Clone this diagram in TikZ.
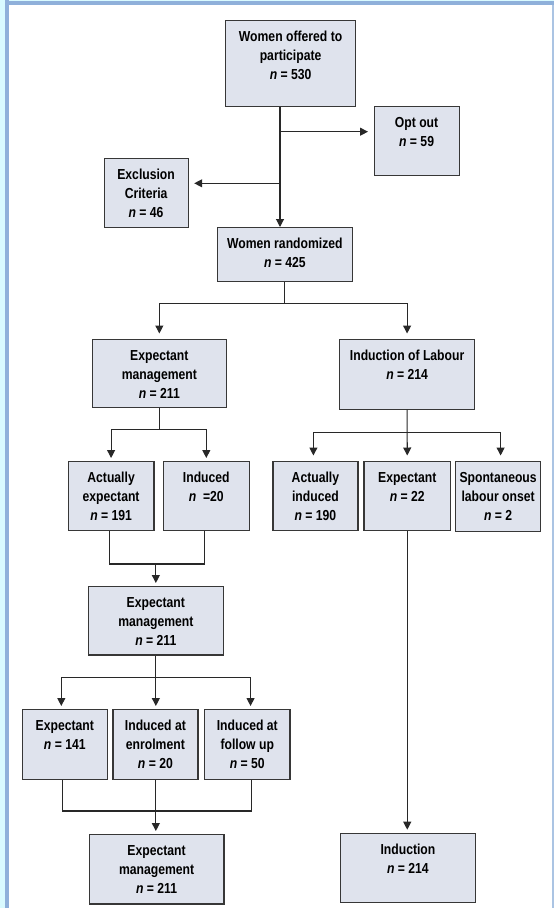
\documentclass[tikz,border=0pt]{standalone}
\usepackage{fontspec}
\setmainfont{Liberation Sans}[FakeStretch=0.84]
\usetikzlibrary{arrows.meta,calc}
\definecolor{boxfill}{RGB}{223,227,237}
\definecolor{boxline}{RGB}{55,55,55}
\definecolor{conn}{RGB}{40,40,40}
\definecolor{framebl}{RGB}{143,176,218}
\definecolor{framecy}{RGB}{217,250,255}
\newcommand{\bt}[3]{\begin{minipage}[t][#2pt][t]{#1pt}\centering\rule{0pt}{21pt}#3\end{minipage}}
\newcommand{\nn}{\textit{n}}
\tikzset{
  fbox/.style={draw=boxline, fill=boxfill, line width=1.2pt, inner sep=0pt, anchor=north west,
    font=\fontsize{14.5}{19}\selectfont\bfseries},
  ln/.style={draw=conn, line width=1.1pt},
  arr/.style={ln, -{Triangle[length=8pt,width=8pt]}, shorten >=3pt},
  arrb/.style={ln, -{Triangle[length=8pt,width=8pt]}, shorten >=5.5pt}
}
\begin{document}
\begin{tikzpicture}[x=1pt,y=-1pt]
\useasboundingbox (0,0) rectangle (554,908);
\fill[white] (0,0) rectangle (554,908);
% frame
\fill[framecy] (0,0) rectangle (5.3,908);
\fill[framecy] (5.3,0) rectangle (554,1);
\fill[framebl] (5.3,0) rectangle (9,908);
\fill[framebl] (5.3,1) rectangle (554,5);
\fill[framebl!75] (552.3,5) rectangle (553.7,908);
% boxes
\node[fbox] (wo) at (225,20) {\bt{130}{86}{Women offered to\\participate\\\nn{} = 530}};
\node[fbox] (oo) at (373.5,106) {\bt{85}{69}{Opt out\\\nn{} = 59}};
\node[fbox] (ex) at (103.5,158) {\bt{84}{69}{Exclusion\\Criteria\\\nn{} = 46}};
\node[fbox] (wr) at (217,227) {\bt{134.5}{53.5}{Women randomized\\\nn{} = 425}};
\node[fbox] (em) at (91.5,339) {\bt{134.5}{67.5}{Expectant\\management\\\nn{} = 211}};
\node[fbox] (il) at (339,339) {\bt{135}{69.5}{Induction of Labour\\\nn{} = 214}};
\node[fbox] (ae) at (67.7,461) {\bt{85.6}{69}{Actually\\expectant\\\nn{} = 191}};
\node[fbox] (ind) at (162.7,461) {\bt{86}{69}{Induced\\\nn{}\ \ =20}};
\node[fbox] (ai) at (272.3,461) {\bt{85}{69}{Actually\\induced\\\nn{} = 190}};
\node[fbox] (exb) at (363.3,461) {\bt{86.7}{69}{Expectant\\\nn{} = 22}};
\node[fbox] (sp) at (455,461) {\bt{85}{70}{Spontaneous\\labour onset\\\nn{} = 2}};
\node[fbox] (emb) at (88,586) {\bt{134.5}{68.3}{Expectant\\management\\\nn{} = 211}};
\node[fbox] (ea) at (21.7,709) {\bt{85}{70}{Expectant\\\nn{} = 141}};
\node[fbox] (ie) at (112.3,709) {\bt{85}{70}{Induced at\\enrolment\\\nn{} = 20}};
\node[fbox] (if) at (204,709) {\bt{85.3}{70}{Induced at\\follow up\\\nn{} = 50}};
\node[fbox] (emc) at (88.7,834) {\bt{134.6}{69.3}{Expectant\\management\\\nn{} = 211}};
\node[fbox] (indc) at (339.7,832.7) {\bt{135.3}{69.3}{Induction\\\nn{} = 214}};
% connectors: top
\coordinate (c1) at (280,131.7);
\coordinate (c2) at (280,183.3);
\draw[arr, shorten >=0pt] (wo.south -| c1) -- (c1 |- wr.north);
\draw[arrb] (c1) -- (c1 -| oo.west);
\draw[arrb] (c2) -- (c2 -| ex.east);
% randomized split
\coordinate (s1) at ($(wr.south)+(0,21.6)$);
\draw[ln] (wr.south) -- (s1);
\draw[arrb] (s1) -| (em.north);
\draw[arrb] (s1) -| (il.north);
% expectant management split
\coordinate (s2) at ($(em.south)+(0,21.8)$);
\draw[ln] (em.south) -- (s2);
\draw[arr] (s2) -| (ae.north);
\draw[arr] (s2) -| (ind.north);
% induction split
\coordinate (s3) at ($(il.south)+(0,22.5)$);
\draw[arrb] (il.south) -- (exb.north);
\draw[arrb] (s3) -| ([xshift=-2pt]ai.north);
\draw[arrb] (s3) -| ([xshift=2.5pt]sp.north);
% join to second expectant management
\coordinate (j1) at (109.5,564);
\coordinate (j2) at (204.3,564);
\draw[ln] (ae.south -| j1) -- (j1) -- (j2) -- (ind.south -| j2);
\draw[arr] (emb.north |- j1) -- (emb.north);
% second split
\coordinate (s4) at ($(emb.south)+(0,22.4)$);
\draw[ln] (emb.south) -- (s4);
\draw[arr] (s4) -| ([xshift=-3.5pt]ea.north);
\draw[arr] (s4) -- (s4 |- ie.north);
\draw[arr] (s4) -| ([xshift=3.3pt]if.north);
% lower join
\coordinate (k1) at (62.3,811);
\coordinate (k2) at (251.3,811);
\draw[ln] (ea.south -| k1) -- (k1) -- (k2) -- (if.south -| k2);
\draw[arr] (ie.south -| s4) -- (s4 |- emc.north);
% induction line
\draw[arr] (exb.south) -- (exb.south |- indc.north);
\end{tikzpicture}
\end{document}
